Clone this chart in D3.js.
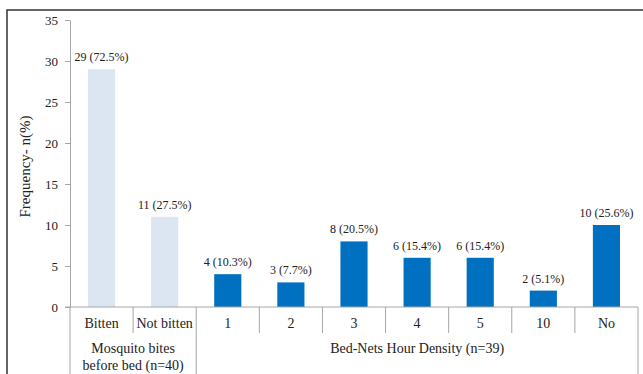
<!DOCTYPE html>
<html><head><meta charset="utf-8">
<script src="https://cdn.jsdelivr.net/npm/d3@7"></script>
<style>html,body{margin:0;padding:0;background:#fff;overflow:hidden}</style>
</head><body>
<svg id="chart" width="643" height="374"></svg>
<script>
const categories = ["Bitten","Not bitten","1","2","3","4","5","10","No"];
const values = [29,11,4,3,8,6,6,2,10];
const valueLabels = ["29 (72.5%)","11 (27.5%)","4 (10.3%)","3 (7.7%)","8 (20.5%)","6 (15.4%)","6 (15.4%)","2 (5.1%)","10 (25.6%)"];
const groupNames = [["Mosquito bites","before bed (n=40)"],["Bed-Nets Hour Density (n=39)"]];
const groupOf = [0,0,1,1,1,1,1,1,1];
const yTicks = [0,5,10,15,20,25,30,35];
const yTitle = "Frequency- n(%)";

const svg = d3.select("#chart");
const font = "'Liberation Serif','Times New Roman',serif";
const axisColor = "#a6a6a6";
const L = 70, R = 638, B = 307, T = 20;

// outer frame
svg.append("rect").attr("x",7).attr("y",10).attr("width",700).attr("height",500)
  .attr("fill","none").attr("stroke","#333").attr("stroke-width",1.5);

const x = d3.scaleBand().domain(categories).range([L,R]).paddingInner(0.57).paddingOuter(0.285);
const cell = d3.scaleBand().domain(categories).range([L,R]).padding(0);
const y = d3.scaleLinear().domain([0,35]).range([B,T]);

// y axis
const yAxis = svg.append("g").attr("transform",`translate(${L},0)`)
  .call(d3.axisLeft(y).tickValues(yTicks).tickSize(5).tickPadding(7).tickSizeOuter(0));
yAxis.select(".domain").attr("stroke",axisColor);
yAxis.selectAll(".tick line").attr("stroke",axisColor);
yAxis.selectAll(".tick text").attr("font-family",font).attr("font-size",13).attr("fill","#222");

svg.append("text").attr("transform",`translate(27,${(T+B)/2+3}) rotate(-90)`)
  .attr("text-anchor","middle").attr("dominant-baseline","middle")
  .attr("font-family",font).attr("font-size",15).attr("fill","#222").text(yTitle);

// bars
svg.selectAll("rect.bar").data(categories).enter().append("rect").attr("class","bar")
  .attr("x",d=>x(d)).attr("width",x.bandwidth())
  .attr("y",(d,i)=>y(values[i])).attr("height",(d,i)=>B-y(values[i]))
  .attr("fill",(d,i)=>groupOf[i]===0?"#dce6f2":"#0070c0");

// value labels
svg.selectAll("text.vl").data(categories).enter().append("text").attr("class","vl")
  .attr("x",d=>x(d)+x.bandwidth()/2).attr("y",(d,i)=>y(values[i])-8)
  .attr("text-anchor","middle").attr("font-family",font).attr("font-size",12).attr("fill","#222")
  .text((d,i)=>valueLabels[i]);

// x axis baseline
svg.append("line").attr("x1",L-5).attr("x2",R).attr("y1",B).attr("y2",B).attr("stroke",axisColor);

// category dividers
categories.forEach((c,i)=>{
  if(i===0) return;
  const xx = cell(c);
  const groupBoundary = groupOf[i]!==groupOf[i-1];
  svg.append("line").attr("x1",xx).attr("x2",xx).attr("y1",B).attr("y2",groupBoundary?380:333).attr("stroke",axisColor);
});
svg.append("line").attr("x1",L).attr("x2",L).attr("y1",B).attr("y2",380).attr("stroke",axisColor);
svg.append("line").attr("x1",R).attr("x2",R).attr("y1",B).attr("y2",380).attr("stroke",axisColor);

// category labels
svg.selectAll("text.cl").data(categories).enter().append("text").attr("class","cl")
  .attr("x",d=>cell(d)+cell.bandwidth()/2).attr("y",325)
  .attr("text-anchor","middle").attr("dominant-baseline","middle")
  .attr("font-family",font).attr("font-size",14).attr("fill","#222").text(d=>d);

// group labels
groupNames.forEach((lines,g)=>{
  const members = categories.filter((c,i)=>groupOf[i]===g);
  const x0 = cell(members[0]), x1 = cell(members[members.length-1])+cell.bandwidth();
  lines.forEach((t,k)=>{
    svg.append("text").attr("x",(x0+x1)/2).attr("y",350+k*17)
      .attr("text-anchor","middle").attr("dominant-baseline","middle")
      .attr("font-family",font).attr("font-size",14).attr("fill","#222").text(t);
  });
});
</script>
</body></html>
